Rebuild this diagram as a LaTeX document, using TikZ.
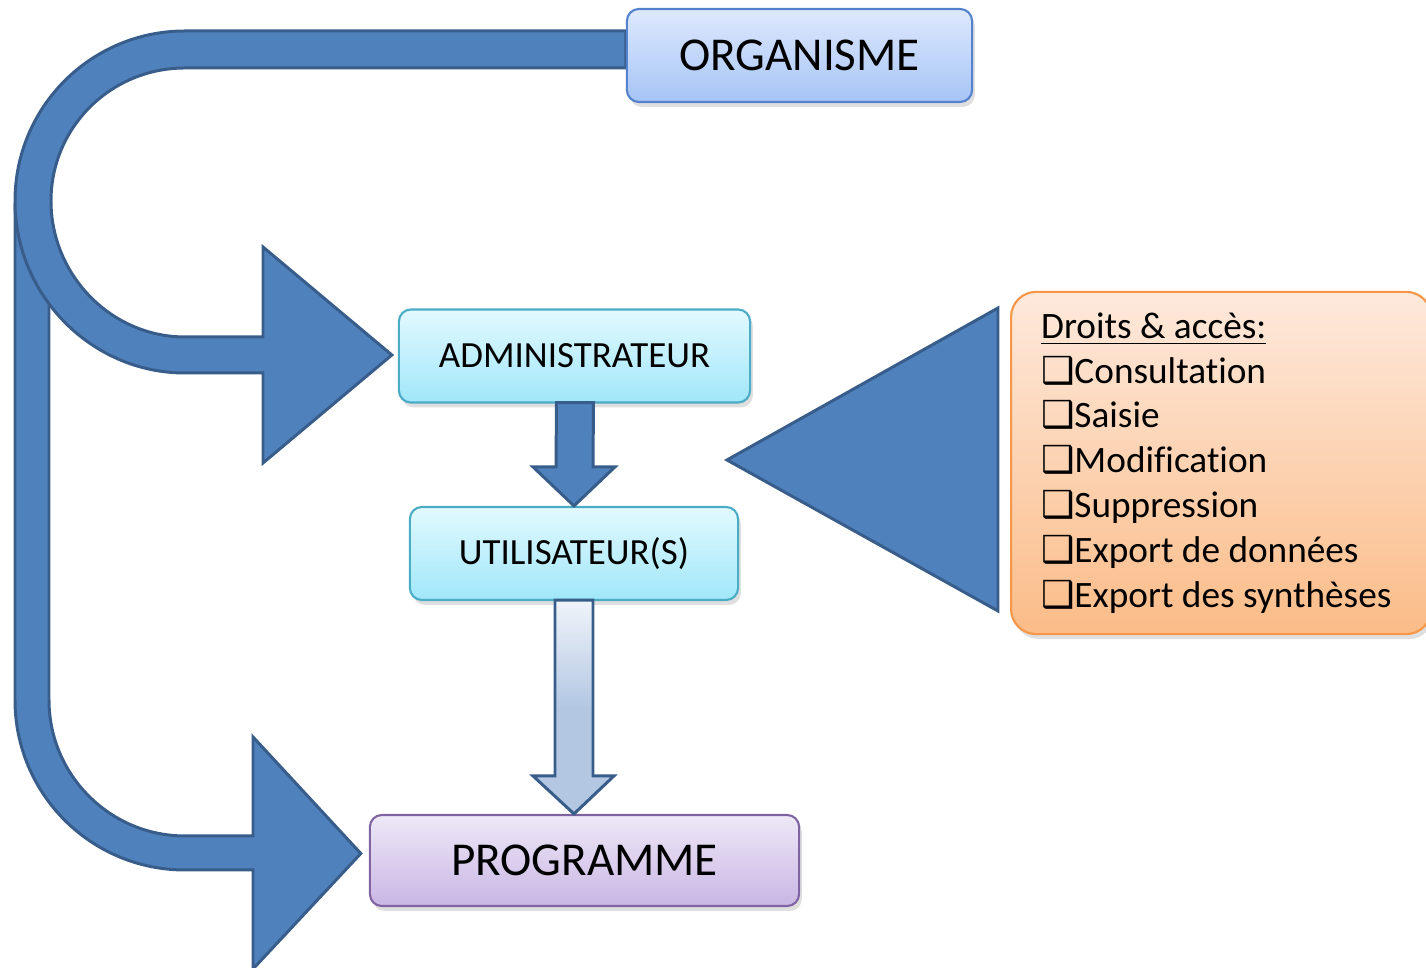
\documentclass[tikz,border=0pt]{standalone}
\usepackage{fontspec}
\setmainfont{Carlito}[Ligatures=NoCommon]
\newfontfamily\symfont{DejaVu Sans}
\usetikzlibrary{calc,shadows,backgrounds}

\definecolor{arrowfill}{RGB}{79,129,189}
\definecolor{arrowline}{RGB}{56,93,138}
\definecolor{orgtop}{RGB}{222,233,253}
\definecolor{orgbottom}{RGB}{166,196,246}
\definecolor{orgline}{RGB}{84,130,204}
\definecolor{roletop}{RGB}{226,249,254}
\definecolor{rolebottom}{RGB}{160,231,250}
\definecolor{roleline}{RGB}{75,172,198}
\definecolor{progtop}{RGB}{238,232,247}
\definecolor{progbottom}{RGB}{201,182,228}
\definecolor{progline}{RGB}{128,100,162}
\definecolor{droittop}{RGB}{253,233,220}
\definecolor{droitbottom}{RGB}{251,188,136}
\definecolor{droitline}{RGB}{247,150,70}
\definecolor{pipetop}{RGB}{240,244,250}
\definecolor{pipebottom}{RGB}{179,199,227}

\newcommand{\droitbox}{{\symfont ❑}}

\tikzset{
  box/.style={draw, line width=0.6pt, rounded corners=0.12cm, align=center,
    inner sep=0pt,
    drop shadow={opacity=0.25, shadow xshift=0.8pt, shadow yshift=-1.4pt}},
  orgbox/.style={box, draw=orgline, top color=orgtop, bottom color=orgbottom,
    minimum width=3.45cm, minimum height=0.93cm,
    font=\fontsize{13.4}{16}\selectfont},
  rolebox/.style={box, draw=roleline, top color=roletop, bottom color=rolebottom,
    minimum height=0.93cm, font=\fontsize{10.5}{12}\selectfont},
  progbox/.style={box, draw=progline, top color=progtop, bottom color=progbottom,
    minimum width=4.29cm, minimum height=0.91cm,
    font=\fontsize{13.4}{16}\selectfont},
  droitsbox/.style={box, draw=droitline, top color=droittop, bottom color=droitbottom,
    rounded corners=0.25cm, align=left, text width=3.6cm, inner xsep=0.3cm,
    minimum height=3.42cm, font=\fontsize{10.6}{12.75}\selectfont},
  blockarrow/.style={draw=arrowline, fill=arrowfill, line width=0.85pt},
}

\begin{document}
\begin{tikzpicture}[x=0.01cm, y=-0.01cm, line join=miter]

  \useasboundingbox (0,0) rectangle (1426,968);

  % boxes
  \node[orgbox] (org) at (799.5,55.5) {ORGANISME};
  \node[rolebox, minimum width=3.51cm] (admin) at (574.5,356) {ADMINISTRATEUR};
  \node[rolebox, minimum width=3.28cm] (util) at (574,553.5) {UTILISATEUR(S)};
  \node[progbox] (prog) at (584.5,860.5) {PROGRAMME};
  \node[droitsbox, anchor=west] (droits) at (1010,463)
    {\spaceskip=0pt \xspaceskip=0pt
     \underline{Droits \& accès:}\\
     \droitbox Consultation\\
     \droitbox Saisie\\
     \droitbox Modification\\
     \droitbox Suppression\\
     \droitbox Export de données\\
     \droitbox Export des synthèses};

  \begin{scope}[on background layer]
  % organisme -> programme
  \draw[blockarrow] (15,205) -- (15,700)
    .. controls (15,794) and (91,870) .. (185,870)
    -- (253,870) -- (253,969) -- ($(prog.west)+(-8,-7)$) -- (253,737)
    -- (253,836) -- (185,836)
    .. controls (110,836) and (49,775) .. (49,700)
    -- (49,205) -- cycle;

  % organisme -> administrateur
  \draw[blockarrow] (org.west |- 0,31) -- (185,31)
    .. controls (91,31) and (15,107) .. (15,201)
    .. controls (15,295) and (91,373) .. (185,373)
    -- (263,373) -- (263,463) -- ($(admin.west)+(-6,-1)$) -- (263,247)
    -- (263,337) -- (185,337)
    .. controls (111,337) and (51,275) .. (51,201)
    .. controls (51,127) and (111,68) .. (185,68)
    -- (org.west |- 0,68) -- cycle;
  \end{scope}

  % administrateur -> utilisateur(s)
  \draw[blockarrow] ($(admin.south)+(-18,-1)$) -- ($(util.north)+(-18,-39)$)
    -- ($(util.north)+(-41,-39)$) -- (util.north)
    -- ($(util.north)+(41,-39)$) -- ($(util.north)+(19,-39)$)
    -- ($(admin.south)+(19,-1)$) -- cycle;

  % utilisateur(s) -> programme
  \draw[draw=arrowline, line width=0.85pt, top color=pipetop,
    bottom color=pipebottom, middle color=pipebottom]
    ($(util.south)+(-19,-1)$) -- ($(util.south |- prog.north)+(-19,-38)$)
    -- ($(util.south |- prog.north)+(-41,-38)$) -- (util.south |- prog.north)
    -- ($(util.south |- prog.north)+(40,-38)$) -- ($(util.south |- prog.north)+(19,-38)$)
    -- ($(util.south)+(19,-1)$) -- cycle;

  % droits -> utilisateur(s)
  \draw[blockarrow] ($(droits.west)+(-12,-155)$) -- ($(droits.west)+(-12,148)$)
    -- ($(droits.west)+(-283,-3)$) -- cycle;

\end{tikzpicture}
\end{document}
